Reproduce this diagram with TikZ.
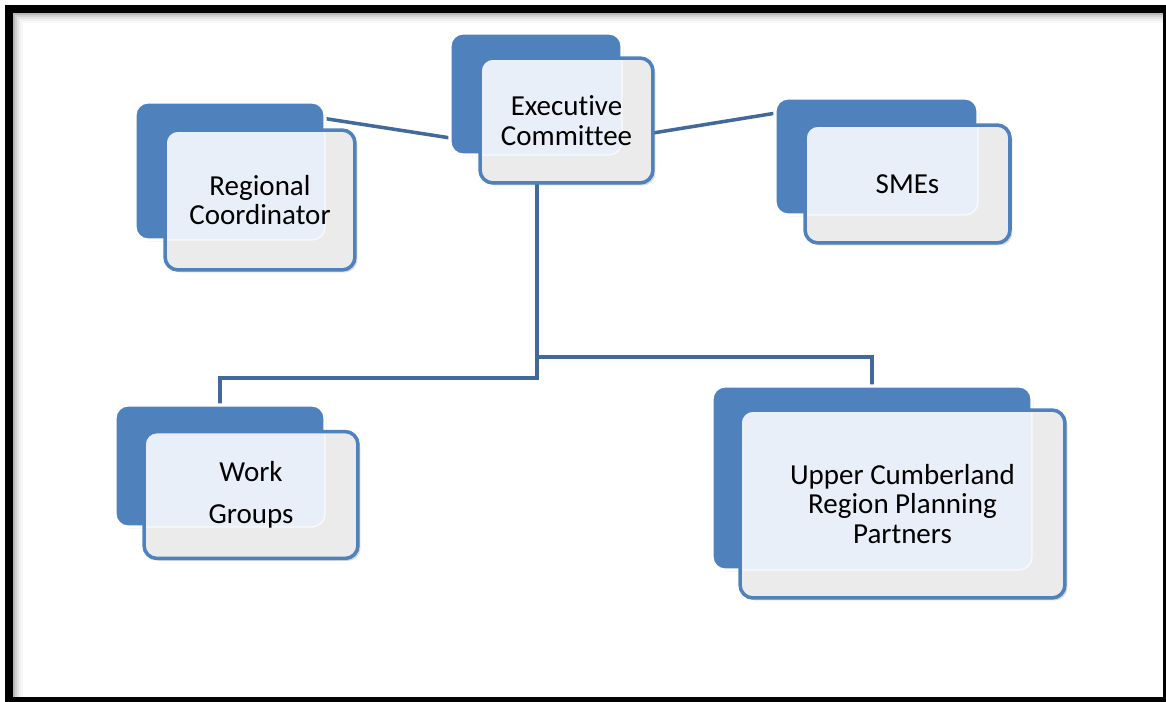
\documentclass[tikz,border=0pt]{standalone}
\usepackage{fontspec}
\setmainfont{Carlito}[Ligatures={NoCommon,NoContextual}]
\usetikzlibrary{calc,shadows,backgrounds}
\definecolor{office}{RGB}{79,129,189}
\definecolor{wire}{RGB}{66,104,156}
\definecolor{tint}{RGB}{233,239,248}
\definecolor{panel}{RGB}{235,235,235}
\tikzset{
  backbox/.style={draw=white, line width=1.8pt, fill=office, rounded corners=2.6mm,
    inner sep=0pt, outer sep=0pt,
    drop shadow={opacity=0.25, shadow xshift=1pt, shadow yshift=-1pt}},
  % front panel: tinted where it lies over its own back box
  frontbox/.style={draw=office, line width=2pt, fill=panel, rounded corners=2.6mm,
    inner sep=0pt, outer sep=0pt, align=center,
    font=\fontsize{16.5}{17}\selectfont,
    drop shadow={opacity=0.3, shadow xshift=1.4pt, shadow yshift=-1.4pt},
    path picture={
      \fill[tint, rounded corners=2.6mm] (#1.south west) rectangle (#1.north east);
      \draw[white, opacity=.7, line width=.8pt, rounded corners=2.6mm]
        (#1.south west) rectangle (#1.north east);}},
  link/.style={draw=wire, line width=2pt}
}
\begin{document}
\begin{tikzpicture}[x=0.02cm,y=-0.02cm]
  \useasboundingbox (0,0) rectangle (1166,702);

  % executive committee
  \node[backbox, minimum width=3.44cm, minimum height=2.44cm] (execback) at (536,94) {};
  \node[frontbox=execback, minimum width=3.46cm, minimum height=2.50cm] (exec) at (566.5,120.5)
    {Executive\\Committee};

  % regional coordinator
  \node[backbox, minimum width=3.80cm, minimum height=2.76cm] (regback) at (230,171) {};
  \node[frontbox=regback, minimum width=3.80cm, minimum height=2.80cm] (reg) at (260,200)
    {Regional\\Coordinator};

  % SMEs
  \node[backbox, minimum width=4.06cm, minimum height=2.34cm] (smeback) at (876.5,156.5) {};
  \node[frontbox=smeback, minimum width=4.10cm, minimum height=2.36cm] (sme) at (907.5,184)
    {SMEs};

  % work groups
  \node[backbox, minimum width=4.20cm, minimum height=2.44cm] (workback) at (220,466) {};
  \node[frontbox=workback, minimum width=4.28cm, minimum height=2.54cm] (work) at (251,495)
    {Work\\[7pt]Groups};

  % planning partners
  \node[backbox, minimum width=6.40cm, minimum height=3.68cm] (ucrback) at (872,478) {};
  \node[frontbox=ucrback, minimum width=6.50cm, minimum height=3.76cm] (ucr) at (902.5,504)
    {Upper Cumberland\\Region Planning\\Partners};

  \begin{scope}[on background layer]
    \draw[link] ($(regback.north east)!0.12!(regback.south east)$)
      -- ($(execback.north west)!0.86!(execback.south west)$);
    \draw[link] ($(exec.north east)!0.6!(exec.south east)$)
      -- ($(smeback.north west)!0.13!(smeback.south west)$);
    \coordinate (stem) at ($(exec.south west)!0.33!(exec.south east)$);
    \draw[link] (stem) |- ($(workback.north)+(0,-27)$) -- (workback.north);
    \draw[link] (stem) |- ($(ucrback.north)+(0,-29)$) -- (ucrback.north);
  \end{scope}

  % frame with a soft inner shadow
  \foreach \d/\o in {1/.28,3/.18,5/.11,7/.06,9/.03}
    \draw[black, opacity=\o, line width=1.2pt] (13+\d,702) -- (13+\d,13+\d) -- (1166,13+\d);
  \draw[black, line width=4.6pt] (9,9) rectangle (1167,701);
\end{tikzpicture}
\end{document}
